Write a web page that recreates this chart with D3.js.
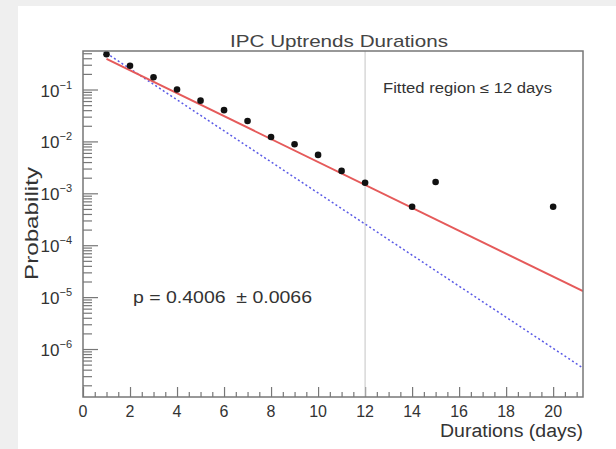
<!DOCTYPE html>
<html lang="en">
<head>
  <meta charset="UTF-8">
  <title>IPC Uptrends Durations</title>
  <script src="https://d3js.org/d3.v7.min.js"></script>
</head>
<body>
</body>
<style>
  body {
    margin: 0;
    padding: 0;
    background: #efefef;
  }

  text {
    font-family: "Liberation Sans", Arial, sans-serif;
    fill: #333;
  }
</style>
<script>
  const width = 616
  const height = 449

  const durations = [1, 2, 3, 4, 5, 6, 7, 8, 9, 10, 11, 12, 14, 15, 20]
  const probs = [0.48, 0.287, 0.172, 0.10, 0.061, 0.040, 0.0248, 0.0122, 0.0088, 0.0055, 0.0027, 0.0016, 0.00055, 0.00165, 0.00055]

  // fitted line (red) and reference line (blue dotted), end points
  const fitX = [1, 21.27]
  const fitY = [0.39, 1.3e-5]
  const refX = [1, 21.27]
  const refY = [0.5, 4.3e-7]

  const xMajor = [0, 2, 4, 6, 8, 10, 12, 14, 16, 18, 20]
  const yMajor = [1e-1, 1e-2, 1e-3, 1e-4, 1e-5, 1e-6]
  const yExp = ['\u22121', '\u22122', '\u22123', '\u22124', '\u22125', '\u22126']

  const cutoff = 12
  const title = 'IPC Uptrends Durations'
  const fitText = 'p = 0.4006  \u00b1 0.0066'
  const regionText = 'Fitted region \u2264 12 days'

  const frame = { left: 83, right: 583, top: 51, bottom: 397 }

  const x = d3.scaleLinear().domain([0, 21.27]).range([frame.left, frame.right])
  const y = d3.scaleLog().domain([1.19e-7, 0.552]).range([frame.bottom, frame.top])

  const svg = d3.select('body').append('svg')
    .attr('width', width)
    .attr('height', height)

  svg.append('rect')
    .attr('x', 18).attr('y', 6)
    .attr('width', width - 18).attr('height', height - 6)
    .attr('fill', '#fff')

  svg.append('clipPath').attr('id', 'clip')
    .append('rect')
    .attr('x', frame.left).attr('y', frame.top)
    .attr('width', frame.right - frame.left).attr('height', frame.bottom - frame.top)

  // ticks: x axis
  const xMinor = d3.range(0.5, 21.27, 0.5).filter(v => v % 2 !== 0)
  const tickStyle = g => {
    g.select('.domain').remove()
    g.selectAll('line').attr('stroke', '#777').attr('stroke-width', 1.2)
  }
  svg.append('g')
    .attr('transform', `translate(0,${frame.bottom})`)
    .call(d3.axisBottom(x).tickValues(xMajor).tickSize(-10).tickFormat(''))
    .call(tickStyle)
  svg.append('g')
    .attr('transform', `translate(0,${frame.bottom})`)
    .call(d3.axisBottom(x).tickValues(xMinor).tickSize(-5).tickFormat(''))
    .call(tickStyle)

  // ticks: y axis (log)
  const yMinor = []
  for (let e = -7; e <= -1; e++) {
    for (let m = 2; m <= 9; m++) {
      const v = m * Math.pow(10, e)
      if (v >= y.domain()[0] && v <= y.domain()[1]) yMinor.push(v)
    }
  }
  svg.append('g')
    .attr('transform', `translate(${frame.left},0)`)
    .call(d3.axisLeft(y).tickValues(yMajor).tickSize(-15).tickFormat(''))
    .call(tickStyle)
  svg.append('g')
    .attr('transform', `translate(${frame.left},0)`)
    .call(d3.axisLeft(y).tickValues(yMinor).tickSize(-9).tickFormat(''))
    .call(tickStyle)

  // tick labels
  svg.append('g').selectAll('text')
    .data(xMajor)
    .join('text')
    .attr('x', d => x(d))
    .attr('y', 417)
    .attr('text-anchor', 'middle')
    .attr('font-size', 16)
    .text(d => d)

  const yl = svg.append('g').selectAll('text')
    .data(yMajor)
    .join('text')
    .attr('x', 72)
    .attr('y', d => y(d) + 7)
    .attr('text-anchor', 'end')
    .attr('font-size', 17)
  yl.append('tspan').text('10')
  yl.append('tspan')
    .attr('dy', -8)
    .attr('font-size', 11)
    .text((d, i) => yExp[i])

  // plot contents
  const plot = svg.append('g').attr('clip-path', 'url(#clip)')

  plot.append('line')
    .attr('x1', x(cutoff)).attr('x2', x(cutoff))
    .attr('y1', frame.top).attr('y2', frame.bottom)
    .attr('stroke', '#c4c4c4')
    .attr('stroke-width', 1)

  const line = d3.line().x(d => x(d[0])).y(d => y(d[1]))

  plot.append('path')
    .datum(d3.zip(refX, refY))
    .attr('d', line)
    .attr('fill', 'none')
    .attr('stroke', '#5a5ae6')
    .attr('stroke-width', 1.5)
    .attr('stroke-dasharray', '2,2.5')

  plot.append('path')
    .datum(d3.zip(fitX, fitY))
    .attr('d', line)
    .attr('fill', 'none')
    .attr('stroke', '#e55a5a')
    .attr('stroke-width', 2)

  plot.append('g').selectAll('circle')
    .data(d3.zip(durations, probs))
    .join('circle')
    .attr('cx', d => x(d[0]))
    .attr('cy', d => y(d[1]))
    .attr('r', 3.3)
    .attr('fill', '#111')

  // frame
  svg.append('rect')
    .attr('x', frame.left).attr('y', frame.top)
    .attr('width', frame.right - frame.left).attr('height', frame.bottom - frame.top)
    .attr('fill', 'none')
    .attr('stroke', '#777')
    .attr('stroke-width', 1.5)

  // texts
  svg.append('text')
    .attr('x', 339).attr('y', 47)
    .attr('text-anchor', 'middle')
    .attr('font-size', 17)
    .attr('textLength', 218)
    .attr('lengthAdjust', 'spacingAndGlyphs')
    .style('fill', '#444')
    .text(title)

  svg.append('text')
    .attr('x', 383).attr('y', 93)
    .attr('font-size', 14)
    .attr('textLength', 169)
    .attr('lengthAdjust', 'spacingAndGlyphs')
    .text(regionText)

  svg.append('text')
    .attr('x', 133).attr('y', 303)
    .attr('font-size', 16)
    .attr('textLength', 179)
    .attr('lengthAdjust', 'spacingAndGlyphs')
    .style('white-space', 'pre')
    .text(fitText)

  svg.append('text')
    .attr('transform', 'translate(38,223.5) rotate(-90)')
    .attr('text-anchor', 'middle')
    .attr('font-size', 19)
    .attr('textLength', 113)
    .attr('lengthAdjust', 'spacingAndGlyphs')
    .text('Probability')

  svg.append('text')
    .attr('x', 583).attr('y', 437)
    .attr('text-anchor', 'end')
    .attr('font-size', 18)
    .attr('textLength', 143)
    .attr('lengthAdjust', 'spacingAndGlyphs')
    .text('Durations (days)')
</script>
</html>
